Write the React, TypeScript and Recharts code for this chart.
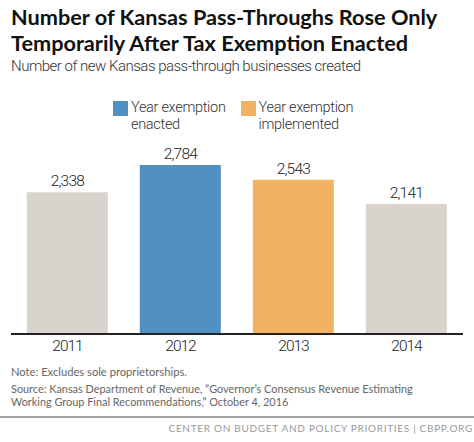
import React from "react";
import { BarChart, Bar, XAxis, YAxis, Cell, LabelList } from "recharts";

const years = ["2011", "2012", "2013", "2014"];
const created = [2338, 2784, 2543, 2141];
const barColors = ["#d9d3cd", "#5190c2", "#f2b264", "#d9d3cd"];

const legendItems = [
  { label: ["Year exemption", "enacted"], color: "#5190c2" },
  { label: ["Year exemption", "implemented"], color: "#f2b264" },
];

const data = years.map((year, i) => ({ year, value: created[i] }));

const LIGHT = "Roboto, sans-serif";

function LegendBox() {
  return (
    <div style={{ position: "absolute", left: 113, top: 99, display: "flex", gap: 15 }}>
      {legendItems.map((item) => (
        <div key={item.color} style={{ display: "flex", alignItems: "flex-start", whiteSpace: "nowrap" }}>
          <div style={{ width: 15, height: 15, background: item.color, marginTop: 2, marginRight: 3 }} />
          <div style={{ fontFamily: LIGHT, fontWeight: 300, fontSize: 14.5, lineHeight: "17px", color: "#333", letterSpacing: -0.3 }}>
            <div>{item.label[0]}</div>
            <div>{item.label[1]}</div>
          </div>
        </div>
      ))}
    </div>
  );
}

export default function App() {
  return (
    <div style={{ position: "absolute", left: 0, top: 0, width: 474, height: 442, background: "#fff", overflow: "hidden" }}>
      <div style={{ position: "absolute", left: 11, top: 5, fontFamily: "Lato, sans-serif", fontWeight: 700, fontSize: 21.7, lineHeight: "25.5px", color: "#111" }}>
        <div>Number of Kansas Pass-Throughs Rose Only</div>
        <div>Temporarily After Tax Exemption Enacted</div>
      </div>
      <div style={{ position: "absolute", left: 11, top: 57, fontFamily: LIGHT, fontWeight: 300, fontSize: 15, letterSpacing: -0.5, color: "#333" }}>
        Number of new Kansas pass-through businesses created
      </div>
      <div style={{ position: "absolute", left: 0, top: 0 }}>
        <BarChart width={474} height={360} data={data} margin={{ top: 152, right: 11, bottom: 0, left: 11 }} barCategoryGap="14%">
          <XAxis
            dataKey="year"
            height={26}
            tickLine={false}
            axisLine={{ stroke: "#222", strokeWidth: 2 }}
            tick={{ fill: "#222", fontSize: 15.5, fontFamily: LIGHT, fontWeight: 300, letterSpacing: -1 }}
            tickMargin={0}
          />
          <YAxis hide domain={[0, 3000]} />
          <Bar dataKey="value" isAnimationActive={false}>
            {data.map((d, i) => (
              <Cell key={d.year} fill={barColors[i]} />
            ))}
            <LabelList
              dataKey="value"
              position="top"
              offset={6}
              formatter={(v: number) => v.toLocaleString("en-US")}
              style={{ fill: "#222", fontSize: 15.5, fontFamily: LIGHT, fontWeight: 300, letterSpacing: -0.8 }}
            />
          </Bar>
        </BarChart>
      </div>
      <LegendBox />
      <div style={{ position: "absolute", left: 11, top: 365, fontFamily: "Lato, sans-serif", fontSize: 11.2, color: "#666", lineHeight: "13px" }}>
        Note: Excludes sole proprietorships.
      </div>
      <div style={{ position: "absolute", left: 11, top: 382, fontFamily: "Lato, sans-serif", fontSize: 10.9, color: "#666", lineHeight: "13px" }}>
        <div>Source: Kansas Department of Revenue, “Governor’s Consensus Revenue Estimating</div>
        <div>Working Group Final Recommendations,” October 4, 2016</div>
      </div>
      <div style={{ position: "absolute", left: 0, top: 416, width: 474, height: 2, background: "#a0a0a0" }} />
      <div style={{ position: "absolute", right: 1, top: 422, fontFamily: "Lato, sans-serif", fontSize: 10, color: "#999", letterSpacing: 0.7, lineHeight: "12px" }}>
        CENTER ON BUDGET AND POLICY PRIORITIES | CBPP.ORG
      </div>
    </div>
  );
}
